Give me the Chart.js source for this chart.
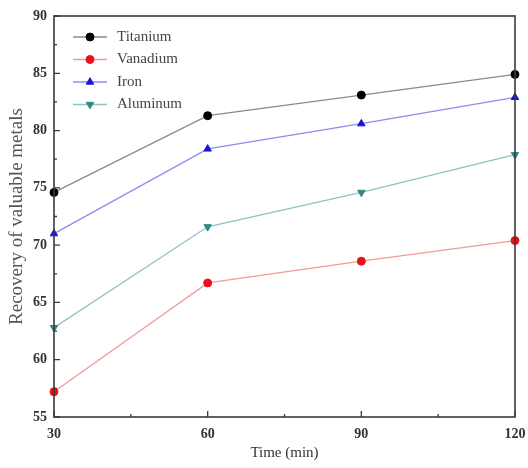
<!DOCTYPE html>
<html>
<head>
<meta charset="utf-8">
<script src="https://cdn.jsdelivr.net/npm/chart.js@4/dist/chart.umd.min.js"></script>
<style>
  html, body { margin: 0; padding: 0; background: #fff; }
  #wrap { width: 528px; height: 468px; }
</style>
</head>
<body>
<div id="wrap"><canvas id="chart" width="528" height="468"></canvas></div>
<script>
// données
const temps = [30, 60, 90, 120];
const titane = [74.6, 81.3, 83.1, 84.9];
const vanadium = [57.2, 66.7, 68.6, 70.4];
const fer = [71.0, 78.4, 80.6, 82.9];
const aluminium = [62.8, 71.6, 74.6, 77.9];
const ticksX = [30, 60, 90, 120];
const ticksY = [55, 60, 65, 70, 75, 80, 85, 90];

const serif = '"Liberation Serif", "Times New Roman", serif';

function serie(label, valeurs, ligne, marque, forme, rotation) {
    return {
        label: label,
        data: temps.map((t, i) => ({ x: t, y: valeurs[i] })),
        borderColor: ligne,
        borderWidth: 1.3,
        backgroundColor: marque,
        pointBackgroundColor: marque,
        pointBorderColor: marque,
        pointBorderWidth: 1,
        pointStyle: forme,
        pointRotation: rotation || 0,
        pointRadius: forme === 'triangle' ? 4.3 : 4,
        tension: 0,
        clip: false
    };
}

// cadre + graduations vers l'intérieur + légende dans la zone du graphique
const cadre = {
    id: 'cadre',
    afterDraw(chart) {
        const { ctx, chartArea: a, scales } = chart;
        ctx.save();
        ctx.strokeStyle = '#3a3a3a';
        ctx.lineWidth = 1.6;
        ctx.strokeRect(a.left, a.top, a.right - a.left, a.bottom - a.top);

        ctx.lineWidth = 1.3;
        ctx.beginPath();
        for (let v = 30; v <= 120; v += 15) {
            const x = scales.x.getPixelForValue(v);
            const len = (v % 30 === 0) ? 6 : 3;
            ctx.moveTo(x, a.bottom);
            ctx.lineTo(x, a.bottom - len);
        }
        for (let v = 55; v <= 90; v += 2.5) {
            const y = scales.y.getPixelForValue(v);
            const len = (v % 5 === 0) ? 6 : 3;
            ctx.moveTo(a.left, y);
            ctx.lineTo(a.left + len, y);
        }
        ctx.stroke();

        // légende
        const x0 = a.left + 19, x1 = a.left + 53, xt = a.left + 63;
        chart.data.datasets.forEach((ds, i) => {
            const y = a.top + 21 + i * 22.5;
            ctx.strokeStyle = ds.borderColor;
            ctx.lineWidth = ds.borderWidth;
            ctx.beginPath();
            ctx.moveTo(x0, y);
            ctx.lineTo(x1, y);
            ctx.stroke();
            ctx.fillStyle = ds.pointBackgroundColor;
            ctx.strokeStyle = ds.pointBorderColor;
            ctx.lineWidth = 1;
            Chart.helpers.drawPoint(ctx, {
                pointStyle: ds.pointStyle,
                rotation: ds.pointRotation,
                radius: ds.pointRadius,
                borderWidth: 1
            }, (x0 + x1) / 2, y);
            ctx.fillStyle = '#444';
            ctx.font = '15px ' + serif;
            ctx.textBaseline = 'middle';
            ctx.textAlign = 'left';
            ctx.fillText(ds.label, xt, y);
        });
        ctx.restore();
    }
};

new Chart(document.getElementById('chart'), {
    type: 'line',
    data: {
        datasets: [
            serie('Titanium', titane, '#8a8a8a', '#000000', 'circle'),
            serie('Vanadium', vanadium, '#f29a9a', '#e8101a', 'circle'),
            serie('Iron', fer, '#8c8cf0', '#1515d8', 'triangle'),
            serie('Aluminum', aluminium, '#8fc4bd', '#2e8a84', 'triangle', 180)
        ]
    },
    options: {
        responsive: false,
        animation: false,
        layout: { padding: { left: 6, right: 13, top: 16, bottom: 6 } },
        plugins: {
            legend: { display: false },
            tooltip: { enabled: false }
        },
        scales: {
            x: {
                type: 'linear',
                min: 30,
                max: 120,
                afterBuildTicks(scale) {
                    scale.ticks = ticksX.map(v => ({ value: v }));
                },
                afterFit(scale) {
                    scale.height = 45;
                    scale.paddingLeft = 0;
                    scale.paddingRight = 0;
                },
                grid: { display: false, drawTicks: false },
                border: { display: false },
                ticks: {
                    padding: 9,
                    color: '#333',
                    font: { family: serif, size: 14, weight: 'bold' }
                },
                title: {
                    display: true,
                    text: 'Time (min)',
                    color: '#333',
                    padding: { top: 3, bottom: 0 },
                    font: { family: serif, size: 15 }
                }
            },
            y: {
                min: 55,
                max: 90,
                afterBuildTicks(scale) {
                    scale.ticks = ticksY.map(v => ({ value: v }));
                },
                afterFit(scale) {
                    scale.width = 48;
                    scale.paddingTop = 0;
                    scale.paddingBottom = 0;
                },
                grid: { display: false, drawTicks: false },
                border: { display: false },
                ticks: {
                    padding: 7,
                    color: '#333',
                    font: { family: serif, size: 14, weight: 'bold' }
                },
                title: {
                    display: true,
                    text: 'Recovery of valuable metals',
                    color: '#555',
                    padding: { top: 0, bottom: 0 },
                    font: { family: serif, size: 19 }
                }
            }
        }
    },
    plugins: [cadre]
});
</script>
</body>
</html>
